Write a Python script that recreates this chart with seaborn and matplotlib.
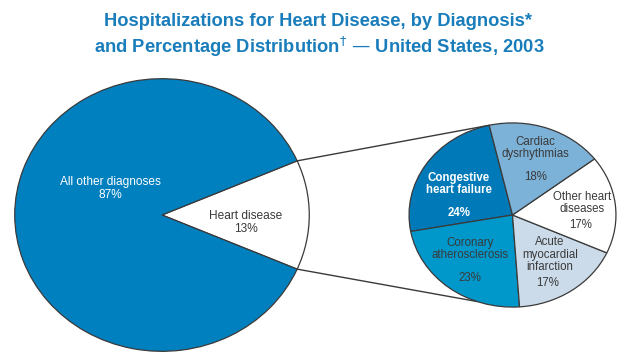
"""
Hospitalizations for heart disease -- pie of pie
"""
import numpy as np
import matplotlib
matplotlib.use("Agg")
import matplotlib.pyplot as plt
import seaborn as sns
from matplotlib.patches import ConnectionPatch

# data
main_labels = ['Heart disease', 'All other diagnoses']
main_values = [13, 87]
main_colors = ['#FFFFFF', '#0080BF']

sub_labels = ['Congestive\nheart failure', 'Coronary\natherosclerosis',
              'Acute\nmyocardial\ninfarction', 'Other heart\ndiseases',
              'Cardiac\ndysrhythmias']
sub_values = [24, 23, 17, 17, 18]
sub_colors = ['#0079B8', '#0097CB', '#CCDBEA', '#FFFFFF', '#7DB2D8']
sub_textcolors = ['white', '#3A3A3A', '#3A3A3A', '#3A3A3A', '#3A3A3A']

# label positions (pie radius units, x / y stretched)
sub_name_pos = [(-0.52, 0.34), (-0.41, -0.37), (0.36, -0.43), (0.67, 0.13), (0.22, 0.73)]
sub_pct_pos = [(-0.52, 0.02), (-0.41, -0.68), (0.34, -0.74), (0.66, -0.11), (0.22, 0.41)]

sns.set_theme(style='white')
plt.rcParams['font.family'] = ['Liberation Sans', 'DejaVu Sans']

edge = '#3A3A3A'
fig = plt.figure(figsize=(6.33, 3.64), dpi=100)

# big pie
ax1 = fig.add_axes([14/633, 12/364, 296/633, 274/364])
main_start = -main_values[0] / sum(main_values) * 360 / 2
ax1.pie(main_values, colors=main_colors, startangle=main_start, counterclock=True,
        wedgeprops=dict(edgecolor=edge, linewidth=0.9))
ax1.set_aspect('auto')
ax1.set_xlim(-1.005, 1.005)
ax1.set_ylim(-1.005, 1.005)
ax1.text(-0.351, 0.197, f'{main_labels[1]}\n{main_values[1]}%', ha='center', va='center',
         color='white', fontsize=8.6, linespacing=1.1)
ax1.text(0.568, -0.055, f'{main_labels[0]}\n{main_values[0]}%', ha='center', va='center',
         color='#3A3A3A', fontsize=8.6, linespacing=1.1)

# small pie
ax2 = fig.add_axes([408/633, 56/364, 209/633, 186/364])
sub_start = 103
ax2.pie(sub_values, colors=sub_colors, startangle=sub_start, counterclock=True,
        wedgeprops=dict(edgecolor=edge, linewidth=0.9))
ax2.set_aspect('auto')
ax2.set_xlim(-1.01, 1.01)
ax2.set_ylim(-1.01, 1.01)
for lab, v, c, p1, p2, i in zip(sub_labels, sub_values, sub_textcolors,
                               sub_name_pos, sub_pct_pos, range(5)):
    w = 'bold' if i == 0 else 'normal'
    ax2.text(p1[0], p1[1], lab, ha='center', va='center', color=c,
             fontsize=8.3, linespacing=1.02, fontweight=w)
    ax2.text(p2[0], p2[1], f'{v}%', ha='center', va='center', color=c,
             fontsize=8.3, fontweight=w)

# connecting lines
half = np.deg2rad(main_values[0] / sum(main_values) * 360 / 2)
top_b = np.deg2rad(sub_start)
bot_b = np.deg2rad(-110)
for a_big, a_small in [(half, top_b), (-half, bot_b)]:
    con = ConnectionPatch(xyA=(np.cos(a_big), np.sin(a_big)), coordsA=ax1.transData,
                          xyB=(np.cos(a_small), np.sin(a_small)), coordsB=ax2.transData,
                          color=edge, linewidth=1.0)
    con.set_zorder(0.5)
    ax2.add_artist(con)

# title
title_kw = dict(ha='center', va='center', color='#1A7DBB', fontsize=13.2,
                fontweight='bold')
fig.text(0.502, 1 - 22/364, 'Hospitalizations for Heart Disease, by Diagnosis*', **title_kw)
fig.text(0.505, 1 - 47/364, 'and Percentage Distribution$^{\\dagger}$ \u2014 United States, 2003',
         **title_kw)

plt.savefig('out.png', dpi=100)
plt.close()
